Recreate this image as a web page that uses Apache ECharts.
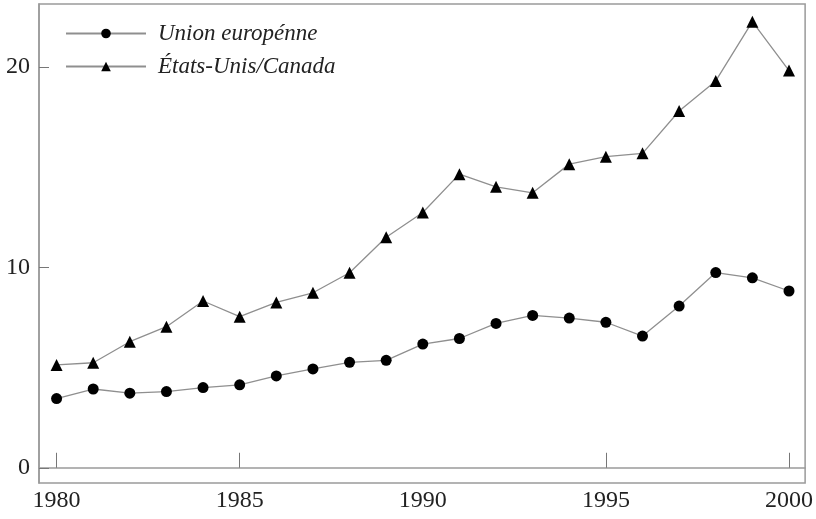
<!DOCTYPE html>
<html>
<head>
<meta charset="utf-8">
<script src="https://cdn.jsdelivr.net/npm/echarts@6/dist/echarts.min.js"></script>
<style>html,body{margin:0;padding:0;background:#fff}#c{width:816px;height:519px}</style>
</head>
<body>
<div id="c"></div>
<script>
const years = [1980,1981,1982,1983,1984,1985,1986,1987,1988,1989,1990,1991,1992,1993,1994,1995,1996,1997,1998,1999,2000];
const ue = [3.45,3.93,3.72,3.8,4.0,4.14,4.58,4.93,5.26,5.36,6.17,6.45,7.2,7.6,7.47,7.26,6.57,8.07,9.74,9.48,8.82];
const usca = [5.13,5.24,6.29,7.04,8.32,7.54,8.25,8.73,9.73,11.5,12.74,14.65,14.02,13.72,15.15,15.52,15.69,17.8,19.3,22.26,19.82];
const xTicks = [1980,1985,1995,2000];
const xLabels = [1980,1985,1990,1995,2000];
const yTicks = [0,10,20];
const seriesNames = ['Union europénne','États-Unis/Canada'];

const font = '"Liberation Serif", "Times New Roman", serif';
const chart = echarts.init(document.getElementById('c'));
chart.setOption({
  animation:false,
  backgroundColor:'#fff',
  grid:{left:39,top:4,right:10,bottom:36,show:true,borderColor:'#9a9a9a',borderWidth:1.5,backgroundColor:'transparent'},
  legend:{
    orient:'vertical',left:60,top:17,itemWidth:80,itemHeight:12,itemGap:10,
    textStyle:{fontFamily:font,fontStyle:'italic',fontSize:23,color:'#222',padding:[0,0,0,7]},
    data:seriesNames
  },
  xAxis:{
    type:'value',min:1979.52,max:2000.44,
    axisLine:{show:true,lineStyle:{color:'#9a9a9a',width:1.5}},
    axisTick:{show:true,inside:true,length:15,customValues:xTicks,lineStyle:{color:'#777',width:1}},
    axisLabel:{customValues:xLabels,margin:6,fontFamily:font,fontSize:24,color:'#222',formatter:v=>String(v)},
    splitLine:{show:false}
  },
  yAxis:{
    type:'value',min:-0.76,max:23.14,
    axisLine:{show:true,lineStyle:{color:'#9a9a9a',width:1.5}},
    axisTick:{show:true,inside:true,length:10,customValues:yTicks,lineStyle:{color:'#777',width:1}},
    axisLabel:{customValues:yTicks,margin:9,fontFamily:font,fontSize:24,color:'#222',formatter:v=>String(v)},
    splitLine:{show:false}
  },
  series:[
    {name:seriesNames[0],type:'line',data:years.map((y,i)=>[y,ue[i]]),symbol:'circle',symbolSize:11,
      lineStyle:{color:'#8f8f8f',width:1.3},itemStyle:{color:'#000',borderWidth:0}},
    {name:seriesNames[1],type:'line',data:years.map((y,i)=>[y,usca[i]]),symbol:'triangle',symbolSize:12,
      lineStyle:{color:'#8f8f8f',width:1.3},itemStyle:{color:'#000',borderWidth:0}}
  ]
});
</script>
</body>
</html>
